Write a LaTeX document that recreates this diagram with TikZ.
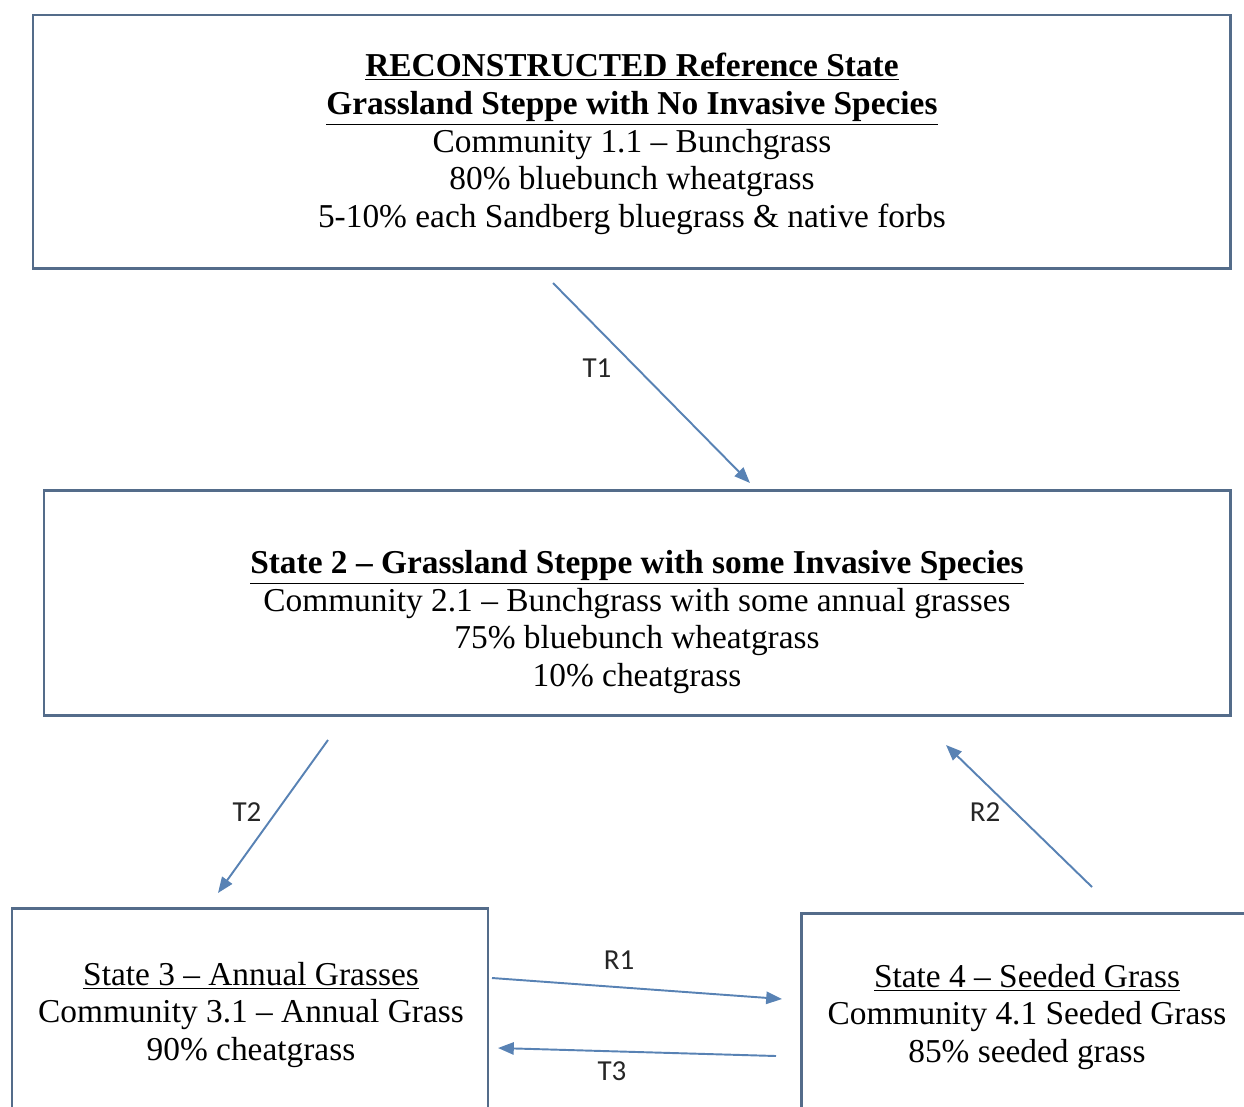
\documentclass[tikz,border=0pt]{standalone}
\usepackage{fontspec}
\setmainfont{Liberation Serif}
\newfontfamily\lblfont{Carlito}
\usetikzlibrary{arrows.meta}
\definecolor{boxline}{RGB}{84,108,138}
\definecolor{arrowline}{RGB}{88,130,180}

\begin{document}
\begin{tikzpicture}[x=0.02cm,y=-0.02cm,
  statebox/.style={draw=boxline,line width=1.7pt},
  statetext/.style={align=center,inner sep=0pt,font=\fontsize{19}{21.4}\selectfont},
  trans/.style={draw=arrowline,line width=1.1pt,-{Triangle[length=9pt,width=7pt]}},
  translabel/.style={font=\lblfont\fontsize{16.5}{19}\selectfont,text=black!85}]
\useasboundingbox (0,0) rectangle (1244,1106);
\clip (0,0) rectangle (1244,1106);

% state boxes
\draw[statebox] (33,15) rectangle (1230,268);
\draw[statebox] (44,490) rectangle (1230,715);
\draw[statebox] (12,908) rectangle (488,1130);
\draw[statebox] (801,913) rectangle (1270,1130);

\node[statetext] (ref) at (632,144) {\textbf{\underline{RECONSTRUCTED Reference State}}\\
  \textbf{\underline{Grassland Steppe with No Invasive Species}}\\
  Community 1.1 -- Bunchgrass\\
  80\% bluebunch wheatgrass\\
  5-10\% each Sandberg bluegrass \& native forbs};

\node[statetext] (st2) at (637,622) {\textbf{\underline{State 2 -- Grassland Steppe with some Invasive Species}}\\
  Community 2.1 -- Bunchgrass with some annual grasses\\
  75\% bluebunch wheatgrass\\
  10\% cheatgrass};

\node[statetext] (st3) at (251,1015) {\underline{State 3 -- Annual Grasses}\\
  Community 3.1 -- Annual Grass\\
  90\% cheatgrass};

\node[statetext] (st4) at (1027,1017) {\underline{State 4 -- Seeded Grass}\\
  Community 4.1 Seeded Grass\\
  85\% seeded grass};

% transitions
\coordinate (t1s) at (553,283);
\coordinate (t1e) at (750,483);
\coordinate (t2s) at (328,740);
\coordinate (t2e) at (218,893);
\coordinate (r2s) at (1092,887);
\coordinate (r2e) at (946,745);
\coordinate (r1s) at (492,978);
\coordinate (r1e) at (782,999);
\coordinate (t3s) at (776,1056);
\coordinate (t3e) at (498,1048);

\draw[trans] (t1s) -- (t1e);
\draw[trans] (t2s) -- (t2e);
\draw[trans] (r2s) -- (r2e);
\draw[trans] (r1s) -- (r1e);
\draw[trans] (t3s) -- (t3e);

\node[translabel] (lt1) at (597,368) {T1};
\node[translabel] (lt2) at (247,812) {T2};
\node[translabel] (lr2) at (985,812) {R2};
\node[translabel] (lr1) at (619,960) {R1};
\node[translabel] (lt3) at (612,1071) {T3};

\end{tikzpicture}
\end{document}
